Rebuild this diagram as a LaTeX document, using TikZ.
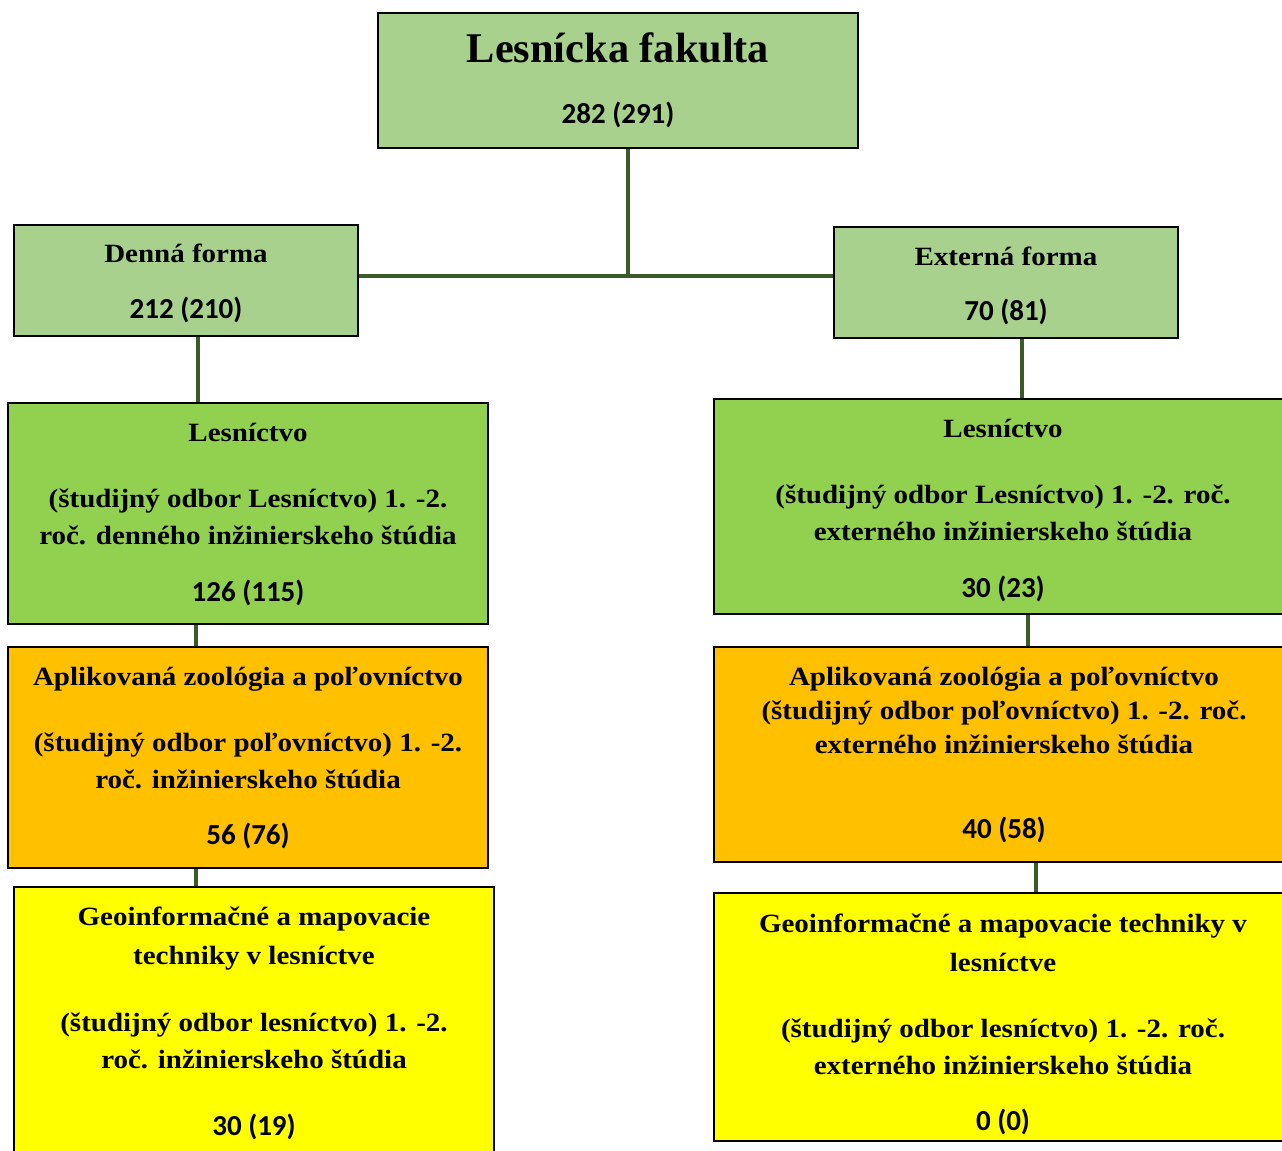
\documentclass[tikz,border=0pt]{standalone}
\usepackage{fontspec}
\setmainfont{Liberation Serif}
\newfontfamily\serw[FakeStretch=1.1]{Liberation Serif}
\newfontfamily\numfont{Carlito}
\usetikzlibrary{fit}
\definecolor{lgreen}{HTML}{A9D18E}
\definecolor{mgreen}{HTML}{92D050}
\definecolor{orng}{HTML}{FFC000}
\definecolor{yell}{HTML}{FFFF00}
\definecolor{lnk}{HTML}{3A5A28}
\tikzset{
  box/.style={draw=black, line width=1.1pt, inner sep=0pt},
  conn/.style={draw=lnk, line width=2.2pt},
  ser/.style={font=\serw\fontsize{15}{18}\selectfont\bfseries, anchor=base, inner sep=0pt},
  big/.style={font=\fontsize{24.1}{29}\selectfont\bfseries, anchor=base, inner sep=0pt},
  num/.style={font=\numfont\fontsize{16.5}{19}\selectfont\bfseries, anchor=base, inner sep=0pt},
}
\begin{document}
\begin{tikzpicture}[x=0.02cm,y=-0.02cm]
\clip (0,0) rectangle (1282,1151);
\fill[white] (0,0) rectangle (1282,1151);
% boxes
\node[box, fill=lgreen, fit={(378,13) (858,148)}] (top) {};
\node[box, fill=lgreen, fit={(14,225) (358,336)}] (denna) {};
\node[box, fill=lgreen, fit={(834,227) (1178,338)}] (ext) {};
\node[box, fill=mgreen, fit={(8,403) (488,624)}] (lesL) {};
\node[box, fill=mgreen, fit={(714,399) (1292,614)}] (lesR) {};
\node[box, fill=orng, fit={(8,647) (488,868)}] (aplL) {};
\node[box, fill=orng, fit={(714,647) (1292,862)}] (aplR) {};
\node[box, fill=yell, fit={(14,887) (494,1165)}] (geoL) {};
\node[box, fill=yell, fit={(714,893) (1292,1141)}] (geoR) {};
% connectors
\coordinate (j) at (628,276);
\coordinate (xa) at (198,0);
\coordinate (xb) at (196,0);
\coordinate (xc) at (1022,0);
\coordinate (xd) at (1028,0);
\coordinate (xe) at (1036,0);
\draw[conn] (top.south -| j) -- (j);
\draw[conn] (denna.east |- j) -- (ext.west |- j);
\draw[conn] (denna.south -| xa) -- (lesL.north -| xa);
\draw[conn] (lesL.south -| xb) -- (aplL.north -| xb);
\draw[conn] (aplL.south -| xb) -- (geoL.north -| xb);
\draw[conn] (ext.south -| xc) -- (lesR.north -| xc);
\draw[conn] (lesR.south -| xd) -- (aplR.north -| xd);
\draw[conn] (aplR.south -| xe) -- (geoR.north -| xe);
% texts
\node[big] (t1) at (618,63) {Lesnícka fakulta};
\node[num] (t2) at (618,124) {282 (291)};
\node[ser] (d1) at (186,263) {Denná forma};
\node[num] (d2) at (186,319) {212 (210)};
\node[ser] (e1) at (1006,266) {Externá forma};
\node[num] (e2) at (1006,321) {70 (81)};
\node[ser] (l1) at (248,442) {Lesníctvo};
\node[ser] (l2) at (248,508) {(študijný odbor Lesníctvo) 1. -2.};
\node[ser] (l3) at (248,545) {roč. denného inžinierskeho štúdia};
\node[num] (l4) at (248,602) {126 (115)};
\node[ser] (r1) at (1003,438) {Lesníctvo};
\node[ser] (r2) at (1003,504) {(študijný odbor Lesníctvo) 1. -2. roč.};
\node[ser] (r3) at (1003,541) {externého inžinierskeho štúdia};
\node[num] (r4) at (1003,598) {30 (23)};
\node[ser] (a1) at (248,686) {Aplikovaná zoológia a poľovníctvo};
\node[ser] (a2) at (248,752) {(študijný odbor poľovníctvo) 1. -2.};
\node[ser] (a3) at (248,789) {roč. inžinierskeho štúdia};
\node[num] (a4) at (248,845) {56 (76)};
\node[ser] (b1) at (1004,686) {Aplikovaná zoológia a poľovníctvo};
\node[ser] (b2) at (1004,720) {(študijný odbor poľovníctvo) 1. -2. roč.};
\node[ser] (b3) at (1004,754) {externého inžinierskeho štúdia};
\node[num] (b4) at (1004,839) {40 (58)};
\node[ser] (g1) at (254,926) {Geoinformačné a mapovacie};
\node[ser] (g2) at (254,965) {techniky v lesníctve};
\node[ser] (g3) at (254,1031) {(študijný odbor lesníctvo) 1. -2.};
\node[ser] (g4) at (254,1068) {roč. inžinierskeho štúdia};
\node[num] (g5) at (254,1135) {30 (19)};
\node[ser] (h1) at (1003,932) {Geoinformačné a mapovacie techniky v};
\node[ser] (h2) at (1003,971) {lesníctve};
\node[ser] (h3) at (1003,1037) {(študijný odbor lesníctvo) 1. -2. roč.};
\node[ser] (h4) at (1003,1074) {externého inžinierskeho štúdia};
\node[num] (h5) at (1003,1130) {0 (0)};
\end{tikzpicture}
\end{document}
